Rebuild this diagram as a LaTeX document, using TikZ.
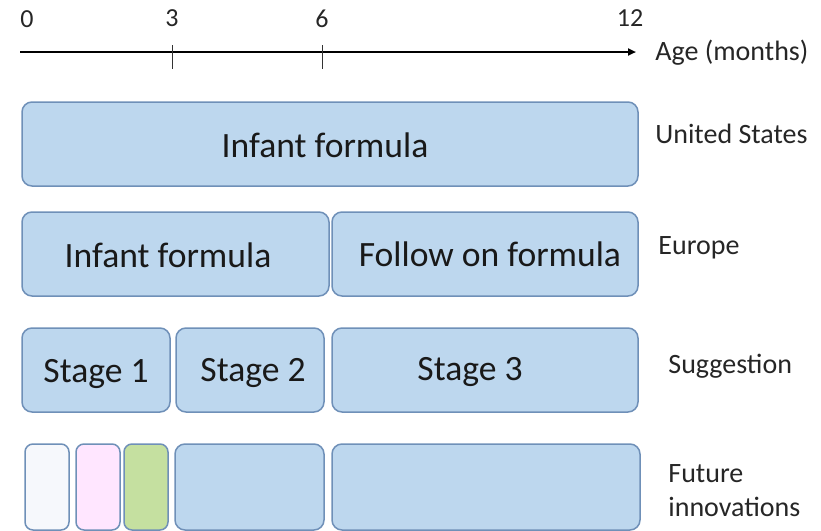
\documentclass[tikz,border=0pt]{standalone}
\usepackage{fontspec}
\setmainfont{Carlito}
\usetikzlibrary{arrows.meta}
\definecolor{BoxFill}{HTML}{BDD7EE}
\definecolor{BoxLine}{HTML}{6F90B8}
\definecolor{PinkFill}{HTML}{FFE6FF}
\definecolor{GreenFill}{HTML}{C5E0A0}
\definecolor{PaleFill}{HTML}{F6F8FC}

\begin{document}
\begin{tikzpicture}[
  x=0.5pt,y=-0.5pt,
  bx/.style={draw=BoxLine,line width=0.75pt,fill=BoxFill,rounded corners=5pt,
             minimum height=42pt,inner sep=0pt},
  sm/.style={bx,minimum width=22pt,minimum height=43pt,rounded corners=4pt},
  txt/.style={inner sep=0pt,font=\fontsize{17.8}{21}\selectfont,text=black!90},
  side/.style={anchor=west,inner sep=0pt,font=\fontsize{14}{17}\selectfont,
               text=black!85,align=left},
  num/.style={inner sep=0pt,font=\fontsize{13}{15}\selectfont,text=black!85},
  ax/.style={-{Triangle[length=4pt,width=3.5pt]},line width=1pt},
  tk/.style={line width=0.5pt,black!80},
]
\useasboundingbox (0,0) rectangle (821,531);
% time axis
\coordinate (a0) at (20,52); \coordinate (a12) at (636,52);
\draw[ax] (a0) -- (a12);
\coordinate (k3t) at (172,45); \coordinate (k3b) at (172,69);
\coordinate (k6t) at (322,45); \coordinate (k6b) at (322,69);
\draw[tk] (k3t) -- (k3b); \draw[tk] (k6t) -- (k6b);
\node[num] (n0) at (27,19) {0};
\node[num] (n3) at (172,18) {3};
\node[num] (n6) at (322,19) {6};
\node[num] (n12) at (630,18) {12};
\node[side] (age) at (655,53) {Age (months)};
% United States
\node[bx,minimum width=308pt] (us) at (330,144) {};
\node[txt] (tus) at (325,145) {Infant formula};
\node[side] (lus) at (655,134) {United States};
% Europe
\node[bx,minimum width=153.5pt] (euinf) at (175.5,254) {};
\node[bx,minimum width=153pt] (eufol) at (485,254) {};
\node[txt] (teuinf) at (168,255) {Infant formula};
\node[txt] (teufol) at (490,254) {Follow on formula};
\node[side] (leu) at (658,248) {Europe};
% Suggestion
\node[bx,minimum width=74pt] (st1) at (96,370) {};
\node[bx,minimum width=74pt] (st2) at (250,370) {};
\node[bx,minimum width=153pt] (st3) at (485,370) {};
\node[txt] (tst1) at (96,374) {Stage 1};
\node[txt] (tst2) at (253,373) {Stage 2};
\node[txt] (tst3) at (470,372) {Stage 3};
\node[side] (lsg) at (668,366) {Suggestion};
% Future innovations
\node[sm,fill=PaleFill] (fu1) at (47,487) {};
\node[sm,fill=PinkFill] (fu2) at (98,487) {};
\node[sm,fill=GreenFill] (fu3) at (146,487) {};
\node[bx,minimum width=74.5pt,minimum height=43pt] (fu4) at (249.5,487) {};
\node[bx,minimum width=154pt,minimum height=43pt] (fu5) at (486,487) {};
\node[side,anchor=north west] (lfu) at (668,464) {Future\\innovations};
\end{tikzpicture}
\end{document}
